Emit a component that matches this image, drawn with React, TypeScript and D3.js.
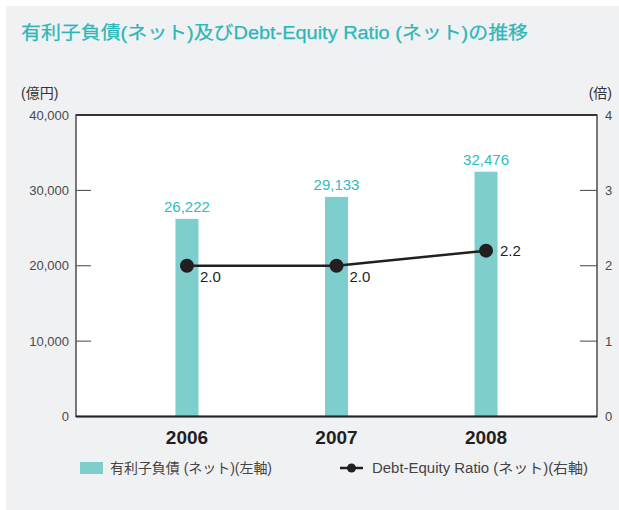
import React from "react";
import * as d3 from "d3";

const years = ["2006", "2007", "2008"];
const debtValues = [26222, 29133, 32476];
const ratioValues = [2.0, 2.0, 2.2];
const leftTicks = [0, 10000, 20000, 30000, 40000];
const rightTicks = [0, 1, 2, 3, 4];
const titleText = "有利子負債(ネット)及びDebt-Equity Ratio (ネット)の推移";
const leftUnit = "(億円)";
const rightUnit = "(倍)";
const legendBar = "有利子負債 (ネット)(左軸)";
const legendLine = "Debt-Equity Ratio (ネット)(右軸)";

const W = 619;
const H = 510;
const plot = { left: 76, right: 597, top: 115, bottom: 416.5 };
const FONT = "'Liberation Sans', Arial, 'Noto Sans CJK JP', sans-serif";
const TEAL_TEXT = "#2dbdbd";
const BAR = "#7ecece";
const DARK = "#231f20";
const GRAY_TEXT = "#4a4a4a";

export default function App() {
  const x = d3.scalePoint<string>().domain(years).range([plot.left, plot.right]).padding(0.742);
  const yL = d3.scaleLinear().domain([0, 40000]).range([plot.bottom, plot.top]);
  const yR = d3.scaleLinear().domain([0, 4]).range([plot.bottom, plot.top]);
  const fmt = d3.format(",");
  const barW = 23;
  const line = d3
    .line<number>()
    .x((_, i) => x(years[i]) as number)
    .y((d) => yR(d));

  return (
    <svg width={W} height={H} style={{ position: "absolute", left: 0, top: 0, fontFamily: FONT }}>
      <rect x={6} y={6} width={W - 6} height={H - 6} fill="#f0f1f3" />
      <text x={21} y={39} fontSize={18} fill="#2cb7b9" fontWeight={400} stroke="#2cb7b9" strokeWidth={0.25} textLength={507} lengthAdjust="spacingAndGlyphs">
        {titleText}
      </text>
      <text x={21} y={98} fontSize={14} fill="#333">{leftUnit}</text>
      <text x={612} y={98} fontSize={14} fill="#333" textAnchor="end">{rightUnit}</text>

      <rect x={plot.left} y={plot.top} width={plot.right - plot.left} height={plot.bottom - plot.top} fill="#fff" />

      {/* bars */}
      {debtValues.map((v, i) => (
        <rect key={"b" + i} x={(x(years[i]) as number) - barW / 2} y={yL(v)} width={barW} height={plot.bottom - yL(v)} fill={BAR} />
      ))}
      {debtValues.map((v, i) => (
        <text key={"bl" + i} x={x(years[i]) as number} y={yL(v) - 7} fontSize={15} fill={TEAL_TEXT} textAnchor="middle">
          {fmt(v)}
        </text>
      ))}

      {/* frame */}
      <rect x={plot.left} y={plot.top} width={plot.right - plot.left} height={plot.bottom - plot.top} fill="none" stroke="#333" strokeWidth={1.3} />
      <line x1={plot.left} x2={plot.right} y1={plot.bottom} y2={plot.bottom} stroke="#222" strokeWidth={2} />
      <line x1={plot.left} x2={plot.right} y1={plot.top} y2={plot.top} stroke="#333" strokeWidth={1.8} />

      {/* left ticks */}
      {leftTicks.map((t) => (
        <g key={"lt" + t}>
          {t > 0 && t < 40000 && <line x1={plot.left} x2={plot.left + 15} y1={yL(t)} y2={yL(t)} stroke="#444" strokeWidth={1} />}
          <text x={plot.left - 7} y={yL(t)} dy="0.35em" fontSize={13} fill={GRAY_TEXT} textAnchor="end">
            {fmt(t)}
          </text>
        </g>
      ))}
      {/* right ticks */}
      {rightTicks.map((t) => (
        <g key={"rt" + t}>
          {t > 0 && t < 4 && <line x1={plot.right - 17} x2={plot.right} y1={yR(t)} y2={yR(t)} stroke="#444" strokeWidth={1} />}
          <text x={plot.right + 8} y={yR(t)} dy="0.35em" fontSize={13} fill={GRAY_TEXT}>
            {t}
          </text>
        </g>
      ))}

      {/* x labels */}
      {years.map((yv) => (
        <text key={"x" + yv} x={x(yv) as number} y={444} fontSize={19} fontWeight="bold" fill={DARK} textAnchor="middle">
          {yv}
        </text>
      ))}

      {/* line */}
      <path d={line(ratioValues) as string} fill="none" stroke={DARK} strokeWidth={2.5} />
      {ratioValues.map((v, i) => (
        <circle key={"c" + i} cx={x(years[i]) as number} cy={yR(v)} r={7} fill={DARK} />
      ))}
      {ratioValues.map((v, i) => {
        const last = i === ratioValues.length - 1;
        return (
          <text key={"rl" + i} x={(x(years[i]) as number) + (last ? 14 : 13)} y={yR(v) + (last ? 0 : 11)} dy="0.35em" fontSize={15} fill={DARK}>
            {v.toFixed(1)}
          </text>
        );
      })}

      {/* legend */}
      <rect x={80} y={462} width={23} height={12} fill={BAR} />
      <text x={110} y={468} dy="0.35em" fontSize={14} fill="#444" textLength={162} lengthAdjust="spacingAndGlyphs">{legendBar}</text>
      <line x1={340} x2={363} y1={468} y2={468} stroke={DARK} strokeWidth={2.5} />
      <circle cx={351.5} cy={468} r={4.5} fill={DARK} />
      <text x={372} y={468} dy="0.35em" fontSize={14} fill="#444" textLength={216} lengthAdjust="spacingAndGlyphs">{legendLine}</text>
    </svg>
  );
}
